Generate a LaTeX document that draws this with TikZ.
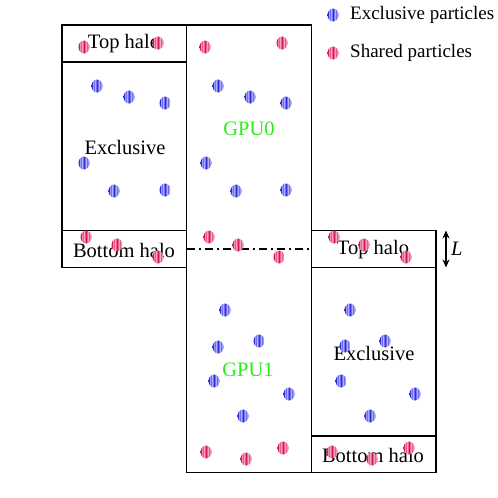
\documentclass[tikz,border=0pt]{standalone}
\usepackage{fontspec}
\setmainfont{Liberation Serif}
\usetikzlibrary{arrows.meta}

\definecolor{exblue}{RGB}{45,45,230}
\definecolor{shred}{RGB}{220,20,80}
\definecolor{gpugreen}{RGB}{45,235,25}

\pgfdeclarehorizontalshading{exstripes}{100bp}{color(0bp)=(exblue); color(30bp)=(exblue); color(34bp)=(white); color(38bp)=(exblue); color(43bp)=(white); color(47bp)=(exblue); color(53bp)=(exblue); color(57bp)=(white); color(62bp)=(exblue); color(66bp)=(white); color(70bp)=(exblue); color(100bp)=(exblue)}
\pgfdeclarehorizontalshading{shstripes}{100bp}{color(0bp)=(shred); color(30bp)=(shred); color(34bp)=(white); color(38bp)=(shred); color(43bp)=(white); color(47bp)=(shred); color(53bp)=(shred); color(57bp)=(white); color(62bp)=(shred); color(66bp)=(white); color(70bp)=(shred); color(100bp)=(shred)}

\newcommand*{\colA}{62}
\newcommand*{\colB}{186.5}
\newcommand*{\colC}{311.5}
\newcommand*{\colD}{436}
\newcommand*{\rowtop}{25}
\newcommand*{\rowbot}{472.5}

\begin{document}
\begin{tikzpicture}
[
	x=1pt,y=-1pt,
	box/.style={draw,line width=1.7pt},
	lbl/.style={inner sep=0pt,font=\fontsize{20.5}{24}\selectfont},
	gpulbl/.style={lbl,text=gpugreen},
	legtext/.style={anchor=west,inner sep=0pt,font=\fontsize{19}{23}\selectfont},
	expart/.style={shading=exstripes},
	shpart/.style={shading=shstripes}
]
	\useasboundingbox (0,0) rectangle (498,498);

	% left column (upper domain halos)
	\draw[box] (\colA,\rowtop) rectangle (\colB,267.5);
	\draw[box] (\colA,62) -- (\colB,62);
	\draw[box] (\colA,230.5) -- (\colB,230.5);

	% middle column (GPU0 + GPU1)
	\draw[box] (\colB,\rowtop) rectangle (\colC,\rowbot);

	% right column (lower domain halos)
	\draw[box] (\colC,230.5) rectangle (\colD,\rowbot);
	\draw[box] (\colC,267.5) -- (\colD,267.5);
	\draw[box] (\colC,436) -- (\colD,436);

	% labels
	\node[lbl] (tophaloA) at (124,44) {Top halo};
	\node[lbl] (exclA) at (125,147) {Exclusive};
	\node[lbl] (bothaloA) at (124,250) {Bottom halo};
	\node[gpulbl] (gpu0) at (249,129) {GPU0};
	\node[gpulbl] (gpu1) at (248,370) {GPU1};
	\node[lbl] (tophaloB) at (373,250) {Top halo};
	\node[lbl] (exclB) at (374,353) {Exclusive};
	\node[lbl] (bothaloB) at (373,455) {Bottom halo};

	% domain boundary
	\coordinate (cutW) at (\colB,249);
	\coordinate (cutE) at (\colC,249);
	\draw[line width=1.5pt,dash pattern=on 8pt off 4pt on 2pt off 4pt] (cutW) -- (cutE);

	% halo width
	\coordinate (haloN) at (446,230.5);
	\coordinate (haloS) at (446,267.5);
	\draw[{Stealth[length=8pt,width=7pt]}-{Stealth[length=8pt,width=7pt]},line width=1.6pt] (haloN) -- (haloS);
	\node[lbl,anchor=west,font=\fontsize{20.5}{24}\selectfont\itshape] (halolen) at (451,249) {L};

	% particles
	\foreach \px/\py in {97/86,129/97,165/103,84/163,114/191,165/190,
		218/86,250/97,286/103,206/163,236/191,286/190,
		225/310,259/341,218/347,214/381,289/394,243/416,
		350/310,385/341,345/346,341/381,415/394,370/416}
		\shade[expart] (\px,\py) ellipse [x radius=5.5pt,y radius=6.5pt];
	\foreach \px/\py in {84/47,158/43,205/47,282/43,
		86/237,117/245,158/257,209/237,238/245,279/257,334/237,364/245,406/257,
		206/452,246/459,283/448,332/452,372/459,409/448}
		\shade[shpart] (\px,\py) ellipse [x radius=5.5pt,y radius=6.5pt];

	% legend
	\shade[expart] (333,15) ellipse [x radius=5.5pt,y radius=6.5pt];
	\shade[shpart] (333,53) ellipse [x radius=5.5pt,y radius=6.5pt];
	\node[legtext] (legex) at (350,15) {Exclusive particles};
	\node[legtext] (legsh) at (350,53) {Shared particles};

\end{tikzpicture}
\end{document}
